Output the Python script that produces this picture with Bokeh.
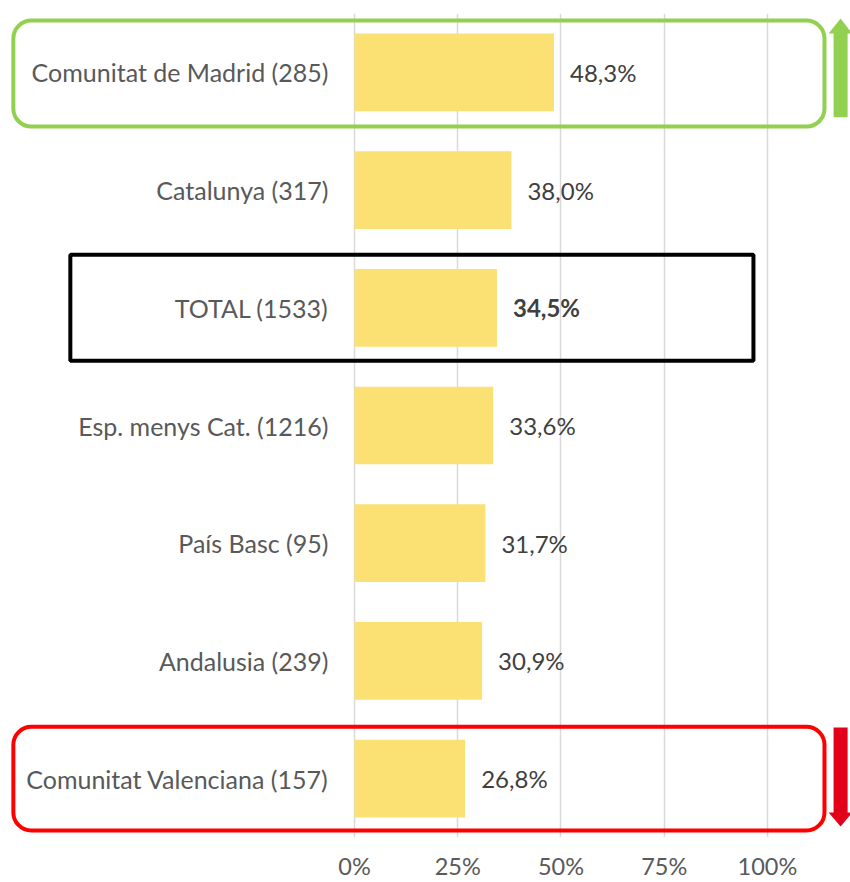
from bokeh.plotting import figure
from bokeh.models import Range1d, ColumnDataSource, FixedTicker, BoxAnnotation, CustomJSTickFormatter
from bokeh.embed import file_html
from bokeh.resources import INLINE

categories = ["Comunitat de Madrid (285)", "Catalunya (317)", "TOTAL (1533)",
              "Esp. menys Cat. (1216)", "País Basc (95)", "Andalusia (239)",
              "Comunitat Valenciana (157)"]
values = [48.3, 38.0, 34.5, 33.6, 31.7, 30.9, 26.8]
value_labels = ["48,3%", "38,0%", "34,5%", "33,6%", "31,7%", "30,9%", "26,8%"]
ticks = [0, 25, 50, 75, 100]
tick_labels = ["0%", "25%", "50%", "75%", "100%"]

FONT = "Lato"
n = len(categories)
ys = [n - i - 0.5 for i in range(n)]
styles = ["bold" if c.startswith("TOTAL") else "normal" for c in categories]

src = ColumnDataSource(dict(cat=categories, val=values, lab=value_labels, y=ys, style=styles))

p = figure(width=850, height=882, output_backend="svg", toolbar_location=None,
           x_range=Range1d(-85.71, 120.1), y_range=Range1d(0, n),
           y_axis_location=None, min_border_left=0, min_border_right=0,
           min_border_top=13, min_border_bottom=44)
p.outline_line_color = None
p.background_fill_color = "white"
p.border_fill_color = "white"

p.ygrid.visible = False
p.xgrid.ticker = FixedTicker(ticks=ticks)
p.xgrid.grid_line_color = "#D9D9D9"
p.xgrid.grid_line_width = 1.5

ax = p.xaxis[0]
ax.ticker = FixedTicker(ticks=ticks)
ax.formatter = CustomJSTickFormatter(args=dict(t=ticks, l=tick_labels),
                                     code="const i = t.indexOf(tick); return i >= 0 ? l[i] : '';")
ax.axis_line_color = None
ax.major_tick_line_color = None
ax.minor_tick_line_color = None
ax.major_tick_in = 0
ax.major_tick_out = 0
ax.major_label_standoff = 14
ax.major_label_text_font = FONT
ax.major_label_text_font_size = "23.5px"
ax.major_label_text_color = "#595959"

p.hbar(y="y", left=0, right="val", height=0.66, source=src, color="#FBE074", line_color=None)

p.text(x=-6.3, y="y", text="cat", source=src, text_align="right", text_baseline="middle",
       text_font={"value": FONT}, text_font_size="25px", text_color="#595959")
p.text(x="val", y="y", text="lab", source=src, x_offset=16, text_align="left",
       text_baseline="middle", text_font={"value": FONT}, text_font_size="24px",
       text_color="#404040", text_font_style="style")

# highlight boxes
p.add_layout(BoxAnnotation(left=-82.6, right=113.8, top=6.94, bottom=6.04,
                           fill_alpha=0, line_color="#92D050", line_alpha=1, line_width=4,
                           border_radius=18))
p.add_layout(BoxAnnotation(left=-82.6, right=113.8, top=0.94, bottom=0.06,
                           fill_alpha=0, line_color="#FF0000", line_alpha=1, line_width=4,
                           border_radius=18))
p.add_layout(BoxAnnotation(left=-68.8, right=96.6, top=4.95, bottom=4.05,
                           fill_alpha=0, line_color="black", line_alpha=1, line_width=4))

# arrows
p.patch([116.0, 119.4, 119.4, 120.5, 117.7, 114.8, 116.0, 116.0],
        [6.118, 6.118, 6.83, 6.83, 6.958, 6.83, 6.83, 6.118],
        color="#92D050", line_color=None)
p.patch([116.0, 119.4, 119.4, 120.5, 117.7, 114.8, 116.0, 116.0],
        [0.934, 0.934, 0.212, 0.212, 0.093, 0.212, 0.212, 0.934],
        color="#E2001A", line_color=None)

open("out.html", "w").write(file_html(p, INLINE))
